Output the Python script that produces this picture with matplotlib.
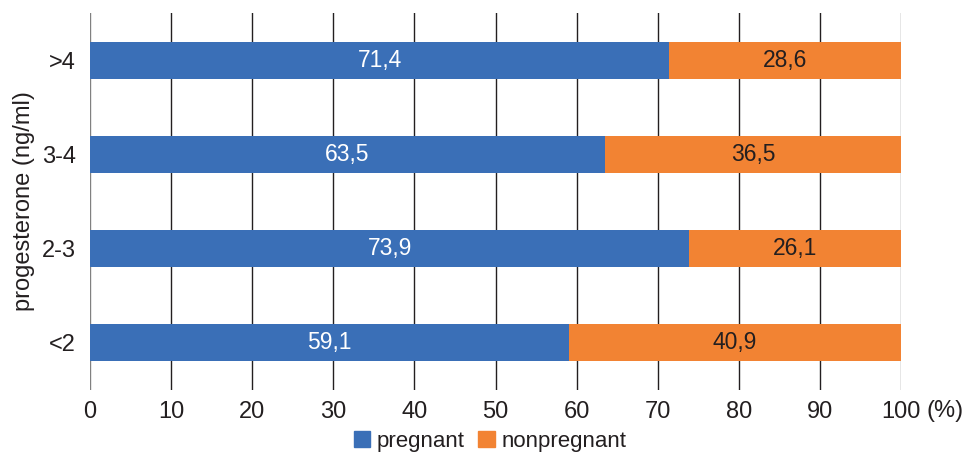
import matplotlib
matplotlib.use("Agg")
import matplotlib.pyplot as plt
from matplotlib.patches import Patch

categories = ["<2", "2-3", "3-4", ">4"]
pregnant = [59.1, 73.9, 63.5, 71.4]
nonpregnant = [40.9, 26.1, 36.5, 28.6]
x_ticks = [0, 10, 20, 30, 40, 50, 60, 70, 80, 90, 100]

plt.rcParams['font.family'] = ['Liberation Sans', 'DejaVu Sans']
blue = "#3A6FB7"
orange = "#F28333"
txt = "#231F20"

fig = plt.figure(figsize=(9.67, 4.57), dpi=100)
ax = fig.add_axes([90/967, 67/457, 811/967, 377/457])

y = list(range(len(categories)))
h = 0.39
ax.barh(y, pregnant, height=h, color=blue, zorder=3)
ax.barh(y, nonpregnant, left=pregnant, height=h, color=orange, zorder=3)

for i in y:
    ax.text(pregnant[i] / 2, i, f"{pregnant[i]:.1f}".replace(".", ","),
            ha="center", va="center", color="white", fontsize=16.5, zorder=4)
    ax.text(pregnant[i] + nonpregnant[i] / 2, i, f"{nonpregnant[i]:.1f}".replace(".", ","),
            ha="center", va="center", color=txt, fontsize=16.5, zorder=4)

ax.set_xlim(0, 100)
ax.set_ylim(-0.505, 3.505)
ax.set_xticks(x_ticks)
ax.set_xticklabels([str(v) for v in x_ticks])
ax.set_yticks(y)
ax.set_yticklabels(categories)
ax.tick_params(axis="x", length=0, pad=8, labelsize=17, labelcolor=txt)
ax.tick_params(axis="y", length=0, pad=10, labelsize=17, labelcolor=txt)
for s in ax.spines.values():
    s.set_visible(False)
for xv in x_ticks:
    c = "#808080" if xv in (0, 100) else "#231F20"
    ax.axvline(xv, color=c, lw=1.0, zorder=1)

ax.set_ylabel("progesterone (ng/ml)", fontsize=17, color=txt, labelpad=5)
fig.text(945/967, 1 - 417/457, "(%)", ha="center", va="baseline", fontsize=17, color=txt)

handles = [Patch(color=blue, label="pregnant"), Patch(color=orange, label="nonpregnant")]
fig.legend(handles=handles, loc="center", bbox_to_anchor=(490/967, 1 - 441/457), ncol=2,
           frameon=False, fontsize=16, handlelength=0.75, handleheight=0.75,
           handletextpad=0.3, columnspacing=0.6, labelcolor=txt)

fig.savefig("out.png", dpi=100)
